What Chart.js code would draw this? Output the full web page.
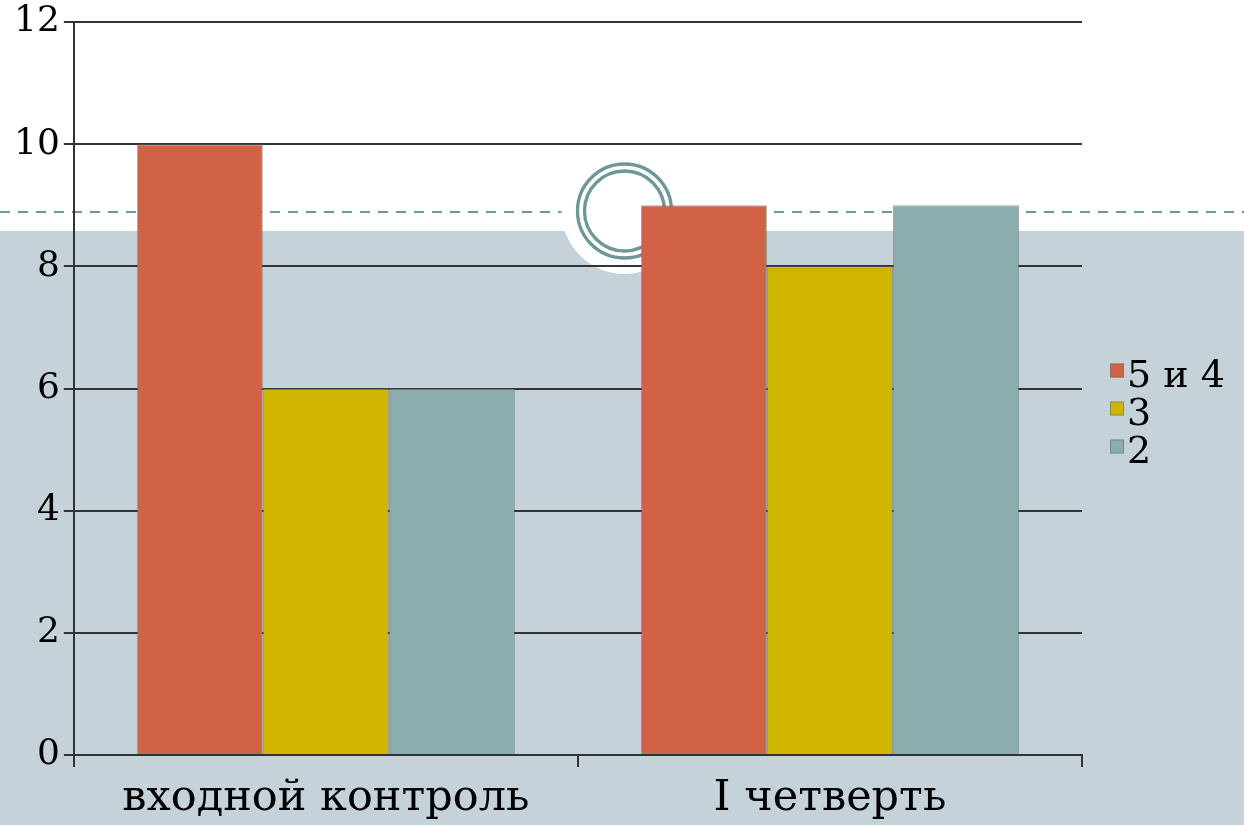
<!DOCTYPE html>
<html>
<head>
<meta charset="utf-8">
<script src="https://cdn.jsdelivr.net/npm/chart.js"></script>
<style>
  body { margin: 0; background: #fff; }
  #wrap { width: 1244px; height: 825px; position: relative; }
</style>
</head>
<body>
<div id="wrap"><canvas id="barChart"></canvas></div>
<script>
const categories = ['входной контроль', 'I четверть'];
const seriesNames = ['5 и 4', '3', '2'];
const good = [10, 9];
const fair = [6, 8];
const poor = [6, 9];
const barColors = ['#d26246', '#cfb400', '#8badad'];

const serif = 'DejaVu Serif';

// slide background: white top, grey band, dashed line and the ring ornament
const slideBg = {
    id: 'slideBg',
    beforeDraw(chart) {
        const c = chart.ctx;
        const w = chart.width, h = chart.height;
        c.save();
        c.fillStyle = '#ffffff';
        c.fillRect(0, 0, w, h);
        c.fillStyle = '#c6d2d9';
        c.fillRect(0, 231, w, h - 231);

        c.strokeStyle = '#6e9795';
        c.lineWidth = 2;
        c.setLineDash([10, 8]);
        c.beginPath();
        c.moveTo(0, 212);
        c.lineTo(w, 212);
        c.stroke();
        c.setLineDash([]);

        c.fillStyle = '#ffffff';
        c.beginPath();
        c.arc(624.5, 211, 63, 0, Math.PI * 2);
        c.fill();

        c.lineWidth = 3.3;
        c.beginPath();
        c.arc(624.5, 211, 47, 0, Math.PI * 2);
        c.stroke();
        c.beginPath();
        c.arc(624.5, 211, 40, 0, Math.PI * 2);
        c.stroke();
        c.restore();
    }
};

// legend to the right of the plot, drawn from the datasets
const sideLegend = {
    id: 'sideLegend',
    afterDraw(chart) {
        const c = chart.ctx;
        const area = chart.chartArea;
        const x = area.right + 28;
        const midY = (area.top + area.bottom) / 2;
        c.save();
        c.font = '38px "' + serif + '"';
        c.textBaseline = 'middle';
        c.textAlign = 'left';
        chart.data.datasets.forEach((ds, i) => {
            const y = midY - 14 + i * 38;
            c.fillStyle = ds.backgroundColor;
            c.fillRect(x, y - 11, 14, 14);
            c.strokeStyle = 'rgba(110,110,110,0.6)';
            c.lineWidth = 1;
            c.strokeRect(x + 0.5, y - 10.5, 13, 13);
            c.fillStyle = '#000';
            c.fillText(ds.label, x + 17, y + 3);
        });
        c.restore();
    }
};

const bar = document.getElementById('barChart');
const barChart = new Chart(bar, {
    type: 'bar',
    data: {
        labels: categories,
        datasets: [{
            label: seriesNames[0],
            data: good,
            backgroundColor: barColors[0],
            borderColor: 'rgba(110,110,110,0.6)',
            borderWidth: 1
        }, {
            label: seriesNames[1],
            data: fair,
            backgroundColor: barColors[1],
            borderColor: 'rgba(110,110,110,0.6)',
            borderWidth: 1
        }, {
            label: seriesNames[2],
            data: poor,
            backgroundColor: barColors[2],
            borderColor: 'rgba(110,110,110,0.6)',
            borderWidth: 1
        }]
    },
    options: {
        responsive: true,
        maintainAspectRatio: false,
        animation: false,
        datasets: {
            bar: { categoryPercentage: 0.75, barPercentage: 1 }
        },
        layout: {
            padding: { top: 0, left: 10, right: 162, bottom: -5 }
        },
        plugins: {
            tooltip: { enabled: false },
            legend: { display: false }
        },
        scales: {
            x: {
                grid: {
                    drawOnChartArea: false,
                    drawTicks: true,
                    tickLength: 12,
                    color: '#333',
                    lineWidth: 2
                },
                border: { color: '#333', width: 2 },
                ticks: {
                    color: '#000',
                    font: { family: serif, size: 43, lineHeight: 1 },
                    padding: 10
                }
            },
            y: {
                min: 0,
                max: 12,
                ticks: {
                    stepSize: 2,
                    color: '#000',
                    font: { family: serif, size: 36, lineHeight: 1 },
                    padding: 4
                },
                grid: {
                    color: '#333',
                    lineWidth: 2,
                    tickLength: 10
                },
                border: { color: '#333', width: 2 }
            }
        }
    },
    plugins: [slideBg, sideLegend]
});
</script>
</body>
</html>
